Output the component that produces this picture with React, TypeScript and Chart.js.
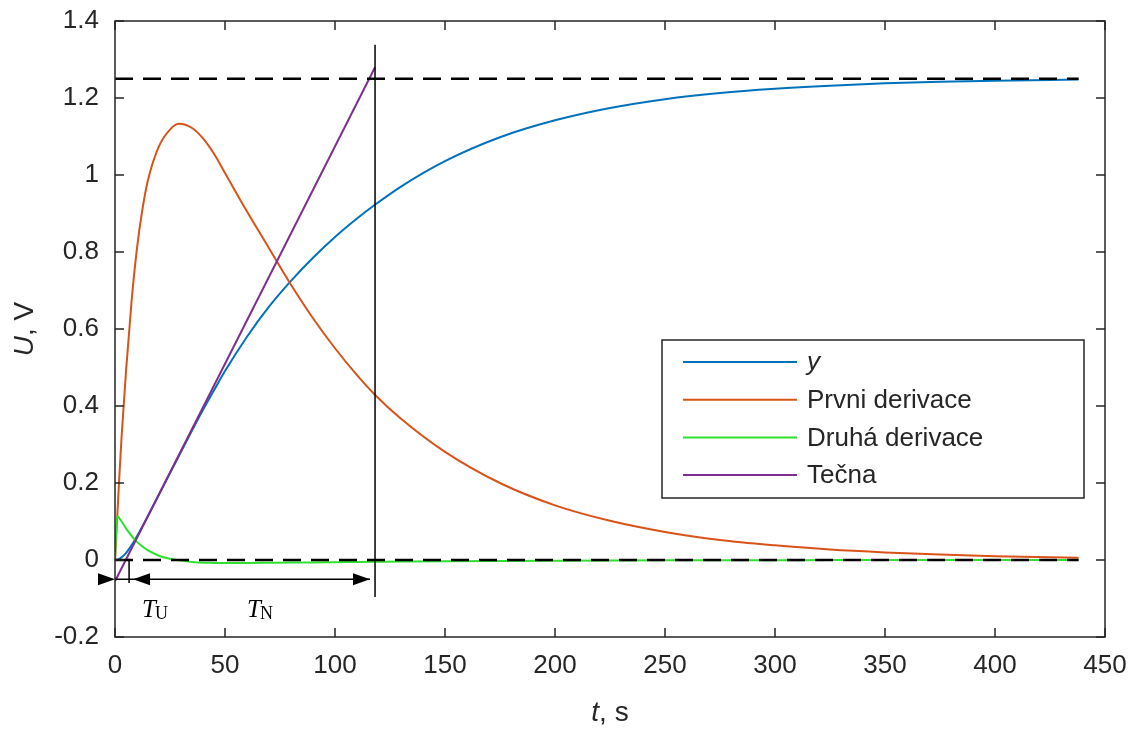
import React, { useEffect, useRef } from 'react';
import { Chart, registerables } from 'chart.js';

Chart.register(...registerables);

// ---------- data ----------
const timeS = [0, 1, 2, 3, 5, 7.5, 10, 12.5, 15, 20, 25, 29, 35, 40, 45, 50, 60, 70, 80, 90, 100, 110, 118, 130, 150, 175, 200, 225, 250, 275, 300, 325, 350, 375, 400, 438];

const outputY = [0, 0.001, 0.003, 0.007, 0.018, 0.038, 0.062, 0.088, 0.115, 0.17, 0.226, 0.27, 0.336, 0.39, 0.441, 0.491, 0.58, 0.658, 0.725, 0.785, 0.839, 0.887, 0.922, 0.97, 1.036, 1.098, 1.142, 1.174, 1.197, 1.213, 1.224, 1.232, 1.238, 1.242, 1.245, 1.248];

const firstDerivative = [0, 0.11, 0.22, 0.32, 0.49, 0.67, 0.81, 0.912, 0.987, 1.075, 1.118, 1.133, 1.122, 1.095, 1.055, 1.005, 0.905, 0.81, 0.715, 0.628, 0.55, 0.48, 0.43, 0.367, 0.281, 0.2, 0.142, 0.102, 0.073, 0.052, 0.038, 0.027, 0.0195, 0.014, 0.01, 0.006];

const secondDerivative = [0, 0.115, 0.108, 0.1, 0.082, 0.063, 0.047, 0.035, 0.025, 0.011, 0.003, -0.001, -0.005, -0.007, -0.0075, -0.008, -0.0078, -0.0073, -0.0068, -0.0062, -0.0057, -0.0052, -0.0048, -0.0042, -0.0033, -0.0024, -0.0017, -0.0012, -0.0009, -0.0007, -0.0005, -0.0003, -0.0002, -0.0002, -0.0001, -0.0001];

const tangentT = [0, 118.2];
const tangentU = [-0.055, 1.28];

const steadyLevel = 1.25;
const zeroLevel = 0;
const refLineT = [0, 438];

const verticalT = 118.2;
const verticalU = [-0.096, 1.338];

const tuMarkT = 6.4;
const tuMarkU = [0.003, -0.06];

const arrowU = -0.05;
const arrowLineT = [0, 115.9];
const arrowTipsT = [0, 8.2, 115.9];
const arrowDirs = [1, -1, 1];

const annotationMain = ['T', 'T'];
const annotationSub = ['U', 'N'];
const annotationT = [12.3, 60];
const annotationU = [-0.148, -0.148];

const xTicks = [0, 50, 100, 150, 200, 250, 300, 350, 400, 450];
const xTickLabels = ['0', '50', '100', '150', '200', '250', '300', '350', '400', '450'];
const yTicks = [-0.2, 0, 0.2, 0.4, 0.6, 0.8, 1, 1.2, 1.4];
const yTickLabels = ['-0.2', '0', '0.2', '0.4', '0.6', '0.8', '1', '1.2', '1.4'];

const legendLabels = ['y', 'Prvni derivace', 'Druhá derivace', 'Tečna'];
const seriesColors = ['#0072BD', '#D95319', '#2FE02F', '#7E2F8E'];

const SANS = "'Liberation Sans', Arial, Helvetica, sans-serif";
const SERIF = "'Liberation Serif', 'DejaVu Serif', serif";
const AXIS_COLOR = '#262626';

function pts(xs: number[], ys: number[]) {
  return xs.map((x, i) => ({ x, y: ys[i] }));
}

function drawComposite(ctx: CanvasRenderingContext2D, parts: { text: string; font: string }[], cx: number, cy: number) {
  const widths = parts.map((p) => {
    ctx.font = p.font;
    return ctx.measureText(p.text).width;
  });
  const total = widths.reduce((a, b) => a + b, 0);
  let x = cx - total / 2;
  ctx.textAlign = 'left';
  ctx.textBaseline = 'middle';
  parts.forEach((p, i) => {
    ctx.font = p.font;
    ctx.fillText(p.text, x, cy);
    x += widths[i];
  });
}

const decorPlugin = {
  id: 'decor',
  afterDatasetsDraw(chart: any) {
    const { ctx, chartArea } = chart;
    const xs = chart.scales.x;
    const ys = chart.scales.y;
    const { left, right, top, bottom } = chartArea;

    ctx.save();
    // arrows
    ctx.fillStyle = '#000';
    const ay = ys.getPixelForValue(arrowU);
    arrowTipsT.forEach((t, i) => {
      const tx = xs.getPixelForValue(t);
      const d = arrowDirs[i];
      ctx.beginPath();
      ctx.moveTo(tx, ay);
      ctx.lineTo(tx - d * 17, ay - 6);
      ctx.lineTo(tx - d * 17, ay + 6);
      ctx.closePath();
      ctx.fill();
    });

    // T_U / T_N labels
    ctx.fillStyle = '#000';
    ctx.textBaseline = 'alphabetic';
    ctx.textAlign = 'left';
    annotationMain.forEach((m, i) => {
      const px = xs.getPixelForValue(annotationT[i]);
      const py = ys.getPixelForValue(annotationU[i]);
      ctx.font = `italic 25px ${SERIF}`;
      ctx.fillText(m, px, py);
      const w = ctx.measureText(m).width;
      ctx.font = `18px ${SERIF}`;
      ctx.fillText(annotationSub[i], px + w - 1, py + 2);
    });

    // frame
    ctx.strokeStyle = AXIS_COLOR;
    ctx.lineWidth = 1.5;
    ctx.strokeRect(left, top, right - left, bottom - top);

    // inward ticks
    ctx.beginPath();
    xTicks.forEach((v) => {
      const px = xs.getPixelForValue(v);
      ctx.moveTo(px, bottom);
      ctx.lineTo(px, bottom - 9);
      ctx.moveTo(px, top);
      ctx.lineTo(px, top + 9);
    });
    yTicks.forEach((v) => {
      const py = ys.getPixelForValue(v);
      ctx.moveTo(left, py);
      ctx.lineTo(left + 9, py);
      ctx.moveTo(right, py);
      ctx.lineTo(right - 9, py);
    });
    ctx.stroke();

    // legend
    const bx = left + 547;
    const by = top + 319;
    const bw = 422;
    const bh = 158;
    ctx.fillStyle = '#fff';
    ctx.fillRect(bx, by, bw, bh);
    ctx.strokeStyle = AXIS_COLOR;
    ctx.lineWidth = 1.5;
    ctx.strokeRect(bx, by, bw, bh);
    legendLabels.forEach((lab, i) => {
      const ry = by + 22 + i * 37.7;
      ctx.strokeStyle = seriesColors[i];
      ctx.lineWidth = 2;
      ctx.beginPath();
      ctx.moveTo(bx + 21, ry);
      ctx.lineTo(bx + 135, ry);
      ctx.stroke();
      ctx.fillStyle = AXIS_COLOR;
      ctx.font = i === 0 ? `italic 26px ${SANS}` : `26px ${SANS}`;
      ctx.textAlign = 'left';
      ctx.textBaseline = 'middle';
      ctx.fillText(lab, bx + 145, ry + 1);
    });

    // axis titles
    ctx.fillStyle = AXIS_COLOR;
    drawComposite(
      ctx,
      [
        { text: 't', font: `italic 28px ${SANS}` },
        { text: ', s', font: `28px ${SANS}` },
      ],
      (left + right) / 2,
      bottom + 76
    );
    ctx.save();
    ctx.translate(left - 90, (top + bottom) / 2);
    ctx.rotate(-Math.PI / 2);
    drawComposite(
      ctx,
      [
        { text: 'U', font: `italic 28px ${SANS}` },
        { text: ', V', font: `28px ${SANS}` },
      ],
      0,
      0
    );
    ctx.restore();
    ctx.restore();
  },
};

export default function App() {
  const canvasRef = useRef<HTMLCanvasElement | null>(null);

  useEffect(() => {
    if (!canvasRef.current) return;
    const curve = (label: string, ys: number[], color: string, order: number) => ({
      label,
      data: pts(timeS, ys),
      borderColor: color,
      borderWidth: 2,
      pointRadius: 0,
      fill: false,
      cubicInterpolationMode: 'monotone' as const,
      order,
    });
    const straight = (data: { x: number; y: number }[], color: string, width: number, order: number, dash: number[] = []) => ({
      data,
      borderColor: color,
      borderWidth: width,
      borderDash: dash,
      pointRadius: 0,
      fill: false,
      tension: 0,
      order,
    });

    const chart = new Chart(canvasRef.current, {
      type: 'line',
      data: {
        datasets: [
          curve(legendLabels[0], outputY, seriesColors[0], 8),
          curve(legendLabels[1], firstDerivative, seriesColors[1], 7),
          curve(legendLabels[2], secondDerivative, seriesColors[2], 6),
          straight(pts(tangentT, tangentU), seriesColors[3], 2, 5),
          straight(refLineT.map((t) => ({ x: t, y: steadyLevel })), '#000', 2.5, 1, [18, 10]),
          straight(refLineT.map((t) => ({ x: t, y: zeroLevel })), '#000', 2.5, 1, [18, 10]),
          straight(verticalU.map((u) => ({ x: verticalT, y: u })), '#000', 1.5, 0),
          straight(tuMarkU.map((u) => ({ x: tuMarkT, y: u })), '#000', 1.5, 0),
          straight(arrowLineT.map((t) => ({ x: t, y: arrowU })), '#000', 1.5, 0),
        ] as any,
      },
      options: {
        animation: false,
        responsive: false,
        events: [],
        layout: { padding: { top: 21, right: 38, left: 0, bottom: 0 } },
        plugins: {
          legend: { display: false },
          tooltip: { enabled: false },
        },
        scales: {
          x: {
            type: 'linear',
            min: 0,
            max: 450,
            grid: { display: false, drawTicks: false },
            border: { display: false },
            afterBuildTicks: (s: any) => {
              s.ticks = xTicks.map((v) => ({ value: v }));
            },
            afterFit: (s: any) => {
              s.height = 96;
              s.paddingLeft = 0;
              s.paddingRight = 0;
            },
            ticks: {
              autoSkip: false,
              maxRotation: 0,
              padding: 13,
              color: AXIS_COLOR,
              font: { family: SANS, size: 26 },
              callback: (_v: any, i: number) => xTickLabels[i],
            },
          },
          y: {
            type: 'linear',
            min: -0.2,
            max: 1.4,
            grid: { display: false, drawTicks: false },
            border: { display: false },
            afterBuildTicks: (s: any) => {
              s.ticks = yTicks.map((v) => ({ value: v }));
            },
            afterFit: (s: any) => {
              s.width = 115;
              s.paddingTop = 0;
              s.paddingBottom = 0;
            },
            ticks: {
              autoSkip: false,
              padding: 16,
              color: AXIS_COLOR,
              font: { family: SANS, size: 26 },
              callback: (_v: any, i: number) => yTickLabels[i],
            },
          },
        },
      } as any,
      plugins: [decorPlugin],
    });
    return () => chart.destroy();
  }, []);

  return (
    <div style={{ position: 'absolute', left: 0, top: 0, width: 1143, height: 733, background: '#fff' }}>
      <canvas ref={canvasRef} width={1143} height={733} style={{ display: 'block' }} />
    </div>
  );
}
